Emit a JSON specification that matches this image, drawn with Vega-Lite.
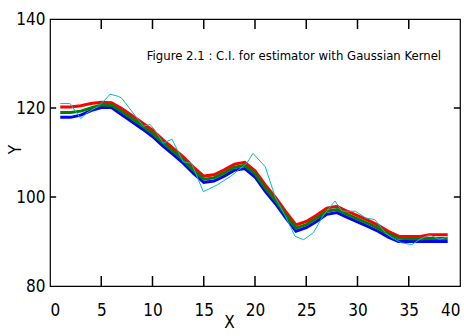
{
  "$schema": "https://vega.github.io/schema/vega-lite/v6.json",
  "width": 410,
  "height": 267,
  "autosize": {"type": "none"},
  "padding": {"left": 50, "top": 19, "right": 4, "bottom": 50},
  "background": "white",
  "config": {
    "view": {"stroke": "#000000", "strokeWidth": 1.2},
    "axis": {
      "grid": false,
      "ticks": true,
      "tickColor": "#000000",
      "tickWidth": 1.5,
      "tickOpacity": 1,
      "domain": false,
      "labelFont": "DejaVu Sans Condensed, Liberation Sans Narrow, Roboto, sans-serif",
      "titleFont": "DejaVu Sans Condensed, Liberation Sans Narrow, Roboto, sans-serif",
      "labelColor": "#000000",
      "titleColor": "#000000",
      "titleFontWeight": "normal"
    }
  },
  "datasets": {
    "curves": [
      {"series": "lo", "x": 1, "y": 117.9}, {"series": "lo", "x": 2, "y": 117.9}, {"series": "lo", "x": 3, "y": 118.4}, {"series": "lo", "x": 4, "y": 119.4}, {"series": "lo", "x": 5, "y": 120.1}, {"series": "lo", "x": 6, "y": 120.1}, {"series": "lo", "x": 7, "y": 118.5}, {"series": "lo", "x": 8, "y": 116.9}, {"series": "lo", "x": 9, "y": 115.3}, {"series": "lo", "x": 10, "y": 113.6}, {"series": "lo", "x": 11, "y": 111.5}, {"series": "lo", "x": 12, "y": 109.6}, {"series": "lo", "x": 13, "y": 107.6}, {"series": "lo", "x": 14, "y": 105.3}, {"series": "lo", "x": 15, "y": 103.3}, {"series": "lo", "x": 16, "y": 103.6}, {"series": "lo", "x": 17, "y": 104.7}, {"series": "lo", "x": 18, "y": 106.0}, {"series": "lo", "x": 19, "y": 106.4}, {"series": "lo", "x": 20, "y": 104.5}, {"series": "lo", "x": 21, "y": 101.3}, {"series": "lo", "x": 22, "y": 98.5}, {"series": "lo", "x": 23, "y": 95.3}, {"series": "lo", "x": 24, "y": 92.3}, {"series": "lo", "x": 25, "y": 93.1}, {"series": "lo", "x": 26, "y": 94.5}, {"series": "lo", "x": 27, "y": 96.1}, {"series": "lo", "x": 28, "y": 96.5}, {"series": "lo", "x": 29, "y": 95.4}, {"series": "lo", "x": 30, "y": 94.4}, {"series": "lo", "x": 31, "y": 93.4}, {"series": "lo", "x": 32, "y": 92.3}, {"series": "lo", "x": 33, "y": 91.0}, {"series": "lo", "x": 34, "y": 90.0}, {"series": "lo", "x": 35, "y": 90.0}, {"series": "lo", "x": 36, "y": 90.0}, {"series": "lo", "x": 37, "y": 90.0}, {"series": "lo", "x": 38, "y": 90.0}, {"series": "lo", "x": 38.8, "y": 90.0},
      {"series": "hi", "x": 1, "y": 120.2}, {"series": "hi", "x": 2, "y": 120.2}, {"series": "hi", "x": 3, "y": 120.5}, {"series": "hi", "x": 4, "y": 121.0}, {"series": "hi", "x": 5, "y": 121.3}, {"series": "hi", "x": 6, "y": 121.2}, {"series": "hi", "x": 7, "y": 119.9}, {"series": "hi", "x": 8, "y": 118.3}, {"series": "hi", "x": 9, "y": 116.7}, {"series": "hi", "x": 10, "y": 115.0}, {"series": "hi", "x": 11, "y": 112.9}, {"series": "hi", "x": 12, "y": 111.0}, {"series": "hi", "x": 13, "y": 109.0}, {"series": "hi", "x": 14, "y": 106.7}, {"series": "hi", "x": 15, "y": 104.7}, {"series": "hi", "x": 16, "y": 105.0}, {"series": "hi", "x": 17, "y": 106.1}, {"series": "hi", "x": 18, "y": 107.4}, {"series": "hi", "x": 19, "y": 107.8}, {"series": "hi", "x": 20, "y": 105.9}, {"series": "hi", "x": 21, "y": 102.7}, {"series": "hi", "x": 22, "y": 99.9}, {"series": "hi", "x": 23, "y": 96.7}, {"series": "hi", "x": 24, "y": 93.7}, {"series": "hi", "x": 25, "y": 94.5}, {"series": "hi", "x": 26, "y": 95.9}, {"series": "hi", "x": 27, "y": 97.5}, {"series": "hi", "x": 28, "y": 97.9}, {"series": "hi", "x": 29, "y": 96.8}, {"series": "hi", "x": 30, "y": 95.8}, {"series": "hi", "x": 31, "y": 94.8}, {"series": "hi", "x": 32, "y": 93.7}, {"series": "hi", "x": 33, "y": 92.3}, {"series": "hi", "x": 34, "y": 91.2}, {"series": "hi", "x": 35, "y": 91.1}, {"series": "hi", "x": 36, "y": 91.1}, {"series": "hi", "x": 37, "y": 91.5}, {"series": "hi", "x": 38, "y": 91.5}, {"series": "hi", "x": 38.8, "y": 91.5},
      {"series": "est", "x": 1, "y": 119.0}, {"series": "est", "x": 2, "y": 119.0}, {"series": "est", "x": 3, "y": 119.3}, {"series": "est", "x": 4, "y": 120.0}, {"series": "est", "x": 5, "y": 120.7}, {"series": "est", "x": 6, "y": 120.6}, {"series": "est", "x": 7, "y": 119.2}, {"series": "est", "x": 8, "y": 117.6}, {"series": "est", "x": 9, "y": 116.0}, {"series": "est", "x": 10, "y": 114.3}, {"series": "est", "x": 11, "y": 112.2}, {"series": "est", "x": 12, "y": 110.3}, {"series": "est", "x": 13, "y": 108.3}, {"series": "est", "x": 14, "y": 106.0}, {"series": "est", "x": 15, "y": 104.0}, {"series": "est", "x": 16, "y": 104.3}, {"series": "est", "x": 17, "y": 105.4}, {"series": "est", "x": 18, "y": 106.7}, {"series": "est", "x": 19, "y": 107.1}, {"series": "est", "x": 20, "y": 105.2}, {"series": "est", "x": 21, "y": 102.0}, {"series": "est", "x": 22, "y": 99.2}, {"series": "est", "x": 23, "y": 96.0}, {"series": "est", "x": 24, "y": 93.0}, {"series": "est", "x": 25, "y": 93.8}, {"series": "est", "x": 26, "y": 95.2}, {"series": "est", "x": 27, "y": 96.8}, {"series": "est", "x": 28, "y": 97.2}, {"series": "est", "x": 29, "y": 96.1}, {"series": "est", "x": 30, "y": 95.1}, {"series": "est", "x": 31, "y": 94.1}, {"series": "est", "x": 32, "y": 93.0}, {"series": "est", "x": 33, "y": 91.7}, {"series": "est", "x": 34, "y": 90.7}, {"series": "est", "x": 35, "y": 90.6}, {"series": "est", "x": 36, "y": 90.6}, {"series": "est", "x": 37, "y": 90.7}, {"series": "est", "x": 38, "y": 90.7}, {"series": "est", "x": 38.8, "y": 90.7},
      {"series": "obs", "x": 1, "y": 121.0}, {"series": "obs", "x": 1.95, "y": 121.0}, {"series": "obs", "x": 3.0, "y": 117.6}, {"series": "obs", "x": 3.6, "y": 118.9}, {"series": "obs", "x": 4.7, "y": 120.4}, {"series": "obs", "x": 5.4, "y": 121.9}, {"series": "obs", "x": 5.85, "y": 123.1}, {"series": "obs", "x": 6.7, "y": 122.6}, {"series": "obs", "x": 7.0, "y": 122.2}, {"series": "obs", "x": 9.1, "y": 115.9}, {"series": "obs", "x": 9.76, "y": 116.3}, {"series": "obs", "x": 10.2, "y": 115.1}, {"series": "obs", "x": 11.05, "y": 112.1}, {"series": "obs", "x": 11.9, "y": 113.0}, {"series": "obs", "x": 13.0, "y": 107.9}, {"series": "obs", "x": 13.8, "y": 107.6}, {"series": "obs", "x": 14.96, "y": 101.2}, {"series": "obs", "x": 16.3, "y": 102.7}, {"series": "obs", "x": 17.6, "y": 104.6}, {"series": "obs", "x": 19.2, "y": 107.6}, {"series": "obs", "x": 19.8, "y": 109.8}, {"series": "obs", "x": 21.0, "y": 106.8}, {"series": "obs", "x": 22.0, "y": 99.8}, {"series": "obs", "x": 22.9, "y": 96.0}, {"series": "obs", "x": 23.9, "y": 91.2}, {"series": "obs", "x": 24.75, "y": 90.4}, {"series": "obs", "x": 25.7, "y": 92.0}, {"series": "obs", "x": 26.7, "y": 96.0}, {"series": "obs", "x": 27.8, "y": 99.1}, {"series": "obs", "x": 28.5, "y": 96.8}, {"series": "obs", "x": 29.8, "y": 96.8}, {"series": "obs", "x": 30.8, "y": 95.3}, {"series": "obs", "x": 31.7, "y": 94.9}, {"series": "obs", "x": 32.7, "y": 92.0}, {"series": "obs", "x": 33.4, "y": 90.8}, {"series": "obs", "x": 34.3, "y": 89.7}, {"series": "obs", "x": 35.3, "y": 89.3}, {"series": "obs", "x": 36.0, "y": 90.4}, {"series": "obs", "x": 37.0, "y": 91.5}, {"series": "obs", "x": 38.0, "y": 90.5}, {"series": "obs", "x": 38.8, "y": 91.0}
    ],
    "xticks": [{"x": 5}, {"x": 10}, {"x": 15}, {"x": 20}, {"x": 25}, {"x": 30}, {"x": 35}],
    "yticks": [{"y": 100}, {"y": 120}],
    "caption": [
      {"x": 23.8, "y": 131.7, "label": "Figure 2.1 : C.I. for estimator with Gaussian Kernel"}
    ]
  },
  "layer": [
    {
      "data": {"name": "curves"},
      "transform": [{"filter": "datum.series === 'lo'"}],
      "mark": {"type": "line", "color": "#0000FF", "strokeWidth": 3, "clip": true},
      "encoding": {
        "x": {"field": "x", "type": "quantitative", "scale": {"domain": [0, 40], "nice": false, "zero": false},
          "axis": {"orient": "bottom", "values": [0, 5, 10, 15, 20, 25, 30, 35, 40], "ticks": false, "labelPadding": 16, "labelFontSize": 17, "title": "X", "titleFontSize": 17, "titleX": 179, "titleY": 36, "titleBaseline": "middle", "titleAlign": "center"}},
        "y": {"field": "y", "type": "quantitative", "scale": {"domain": [80, 140], "nice": false, "zero": false},
          "axis": {"orient": "left", "values": [80, 100, 120, 140], "ticks": false, "labelPadding": 5, "labelFontSize": 17, "title": "Y", "titleFontSize": 17, "titleX": -35, "titleY": 130, "titleAlign": "center", "titleBaseline": "middle"}}
      }
    },
    {
      "data": {"name": "curves"},
      "transform": [{"filter": "datum.series === 'hi'"}],
      "mark": {"type": "line", "color": "#FF0000", "strokeWidth": 3, "clip": true},
      "encoding": {
        "x": {"field": "x", "type": "quantitative"},
        "y": {"field": "y", "type": "quantitative"}
      }
    },
    {
      "data": {"name": "curves"},
      "transform": [{"filter": "datum.series === 'est'"}],
      "mark": {"type": "line", "color": "#008000", "strokeWidth": 3, "clip": true},
      "encoding": {
        "x": {"field": "x", "type": "quantitative"},
        "y": {"field": "y", "type": "quantitative"}
      }
    },
    {
      "data": {"name": "curves"},
      "transform": [{"filter": "datum.series === 'obs'"}],
      "mark": {"type": "line", "color": "#00BFBF", "strokeWidth": 1, "clip": true},
      "encoding": {
        "x": {"field": "x", "type": "quantitative"},
        "y": {"field": "y", "type": "quantitative"}
      }
    },
    {
      "data": {"name": "xticks"},
      "mark": {"type": "rule", "color": "#000000", "strokeWidth": 1.5, "opacity": 1},
      "encoding": {
        "x": {"field": "x", "type": "quantitative"},
        "y": {"datum": 80, "type": "quantitative"},
        "y2": {"datum": 82.25}
      }
    },
    {
      "data": {"name": "xticks"},
      "mark": {"type": "rule", "color": "#000000", "strokeWidth": 1.5, "opacity": 1},
      "encoding": {
        "x": {"field": "x", "type": "quantitative"},
        "y": {"datum": 140, "type": "quantitative"},
        "y2": {"datum": 137.75}
      }
    },
    {
      "data": {"name": "yticks"},
      "mark": {"type": "rule", "color": "#000000", "strokeWidth": 1.5, "opacity": 1},
      "encoding": {
        "y": {"field": "y", "type": "quantitative"},
        "x": {"datum": 0, "type": "quantitative"},
        "x2": {"datum": 0.6}
      }
    },
    {
      "data": {"name": "yticks"},
      "mark": {"type": "rule", "color": "#000000", "strokeWidth": 1.5, "opacity": 1},
      "encoding": {
        "y": {"field": "y", "type": "quantitative"},
        "x": {"datum": 40, "type": "quantitative"},
        "x2": {"datum": 39.4}
      }
    },
    {
      "data": {"name": "caption"},
      "mark": {"type": "text", "font": "DejaVu Sans Condensed, Liberation Sans Narrow, Roboto, sans-serif", "fontSize": 13, "color": "#000000", "align": "center", "baseline": "middle"},
      "encoding": {
        "x": {"field": "x", "type": "quantitative"},
        "y": {"field": "y", "type": "quantitative"},
        "text": {"field": "label"}
      }
    }
  ]
}
